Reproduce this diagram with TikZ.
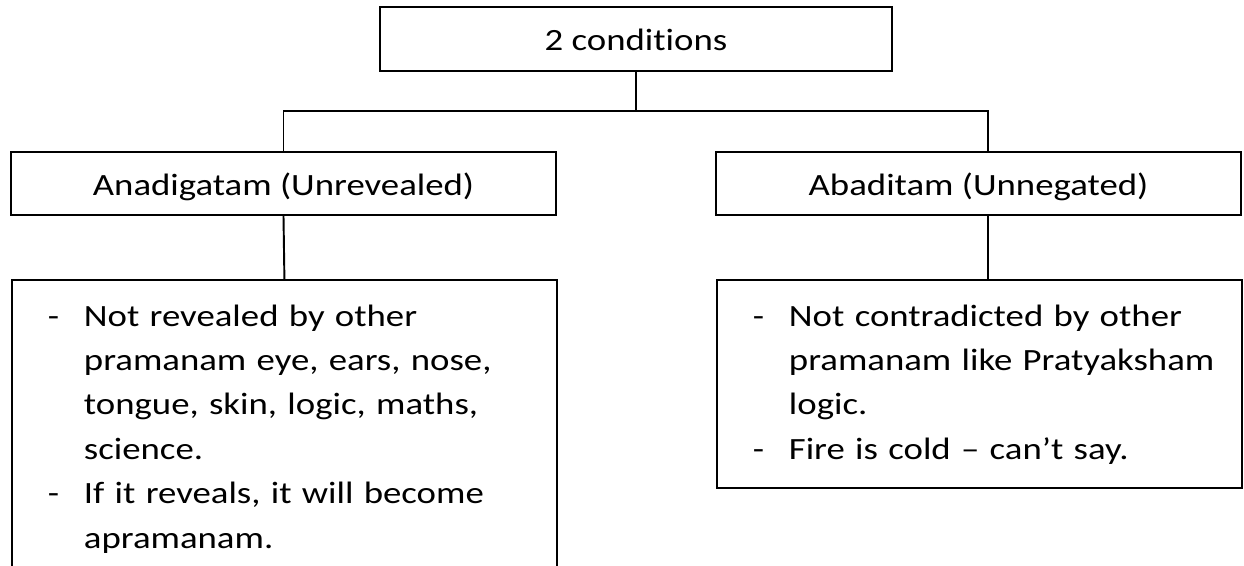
\documentclass[tikz,border=0pt]{standalone}
\usepackage{fontspec}
\setmainfont{Carlito}[FakeStretch=1.19, Ligatures=NoCommon]
\usetikzlibrary{positioning}

\begin{document}
\begin{tikzpicture}[x=0.02cm, y=-0.02cm, line width=1.1pt,
		font=\fontsize{17.6pt}{25.3pt}\selectfont,
		box/.style={draw, minimum height=1.27cm, inner sep=0pt, text height=0.46cm, text depth=0pt},
		note/.style={draw, anchor=north west, inner xsep=0.72cm, inner ysep=0.3cm, align=left}]
	%\draw[help lines, step=50] (0,0) grid (1244,565);
	\path[clip, use as bounding box] (0,0) rectangle (1244,565);
	% heading and the two conditions
	\node[box, minimum width=10.24cm] (cond) at (636,39) {2 conditions};
	\node[box, minimum width=10.9cm] (anad) at (283.5,183.5) {Anadigatam (Unrevealed)};
	\node[box, minimum width=10.5cm] (abad) at (978.5,183.5) {Abaditam (Unnegated)};
	% explanations
	\node[note, text width=9.46cm] (anadnote) at (11,279)
		{\begin{tabular}{@{}p{0.72cm}@{}l@{}}
			- & Not revealed by other\\
			  & pramanam eye, ears, nose,\\
			  & tongue, skin, logic, maths,\\
			  & science.\\
			- & If it reveals, it will become\\
			  & apramanam.
		\end{tabular}};
	\node[note, text width=9.06cm] (abadnote) at (716,279)
		{\begin{tabular}{@{}p{0.72cm}@{}l@{}}
			- & Not contradicted by other\\
			  & pramanam like Pratyaksham\\
			  & logic.\\
			- & Fire is cold – can’t say.
		\end{tabular}};
	% connectors
	\coordinate (split) at (636,111);
	\coordinate (rjoin) at (988,111);
	\draw (cond.south) -- (split);
	\draw (anad.north) |- (rjoin) -- (rjoin |- abad.north);
	\draw (anad.south) -- (anadnote.north);
	\draw (rjoin |- abad.south) -- (rjoin |- abadnote.north);
\end{tikzpicture}
\end{document}
